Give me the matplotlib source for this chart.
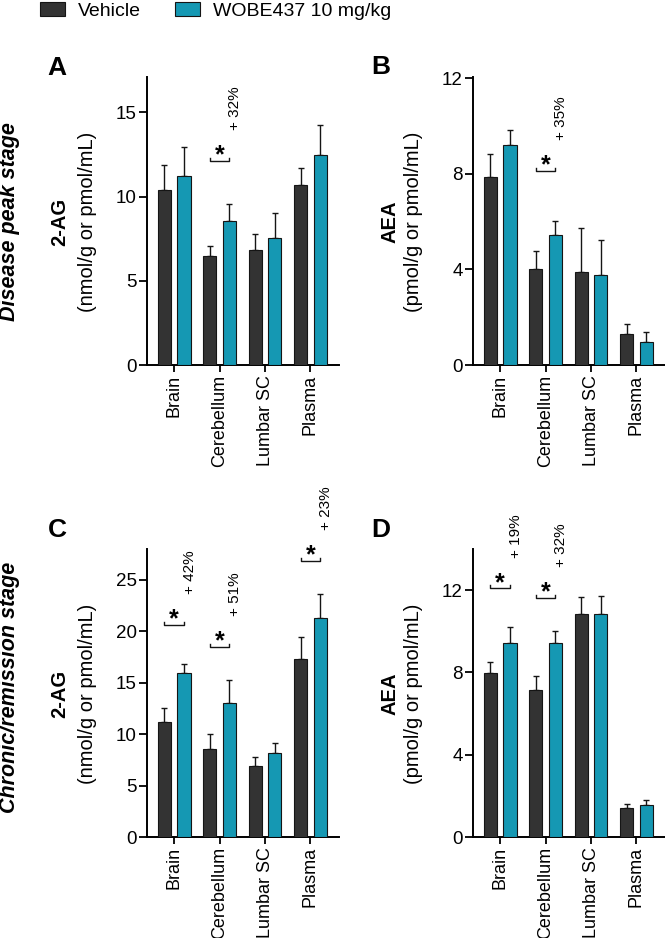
import matplotlib
matplotlib.use("Agg")
import matplotlib.pyplot as plt
from matplotlib.patches import Rectangle
import numpy as np

plt.rcParams['font.family'] = ['Liberation Sans', 'DejaVu Sans']

# ---------------- data ----------------
tissues = ["Brain", "Cerebellum", "Lumbar SC", "Plasma"]
series_names = ["Vehicle", "WOBE437 10 mg/kg"]

# Panel A: 2-AG, disease peak stage
a_vehicle = [10.4, 6.5, 6.85, 10.7]
a_vehicle_err = [1.45, 0.58, 0.93, 1.0]
a_wobe = [11.25, 8.55, 7.55, 12.45]
a_wobe_err = [1.68, 1.0, 1.5, 1.8]

# Panel B: AEA, disease peak stage
b_vehicle = [7.88, 4.0, 3.9, 1.31]
b_vehicle_err = [0.94, 0.78, 1.85, 0.39]
b_wobe = [9.19, 5.43, 3.78, 0.96]
b_wobe_err = [0.64, 0.6, 1.45, 0.41]

# Panel C: 2-AG, chronic/remission stage
c_vehicle = [11.17, 8.56, 6.87, 17.26]
c_vehicle_err = [1.33, 1.47, 0.91, 2.21]
c_wobe = [15.96, 12.99, 8.17, 21.26]
c_wobe_err = [0.87, 2.25, 1.01, 2.37]

# Panel D: AEA, chronic/remission stage
d_vehicle = [7.95, 7.13, 10.82, 1.42]
d_vehicle_err = [0.58, 0.69, 0.83, 0.18]
d_wobe = [9.45, 9.41, 10.82, 1.55]
d_wobe_err = [0.78, 0.59, 0.88, 0.23]

# significance annotations: (tissue index, bracket height, label)
a_sig = [(1, 12.1, "+ 32%")]
b_sig = [(1, 8.13, "+ 35%")]
c_sig = [(0, 20.6, "+ 42%"), (1, 18.5, "+ 51%"), (3, 26.8, "+ 23%")]
d_sig = [(0, 12.08, "+ 19%"), (1, 11.61, "+ 32%")]

ylims = {"A": 17.1, "B": 12.05, "C": 28.0, "D": 14.0}
yticks = {"A": [0, 5, 10, 15], "B": [0, 4, 8, 12], "C": [0, 5, 10, 15, 20, 25], "D": [0, 4, 8, 12]}

VEH = "#333333"
TEAL = "#1598B3"
EDGE = "#151515"

W, H = 665, 938
fig = plt.figure(figsize=(W / 100, H / 100), dpi=100)


def fx(px):
    return px / W


def fy(py):
    return 1 - py / H


axes_px = {
    "A": (147, 77, 339, 365),
    "B": (473, 77, 665, 365),
    "C": (147, 549, 339, 837),
    "D": (473, 549, 665, 837),
}

panels = {
    "A": (a_vehicle, a_vehicle_err, a_wobe, a_wobe_err, a_sig),
    "B": (b_vehicle, b_vehicle_err, b_wobe, b_wobe_err, b_sig),
    "C": (c_vehicle, c_vehicle_err, c_wobe, c_wobe_err, c_sig),
    "D": (d_vehicle, d_vehicle_err, d_wobe, d_wobe_err, d_sig),
}

x = np.arange(len(tissues))
bw = 0.29
off = 0.215
for key, (veh, veh_e, wob, wob_e, sig) in panels.items():
    l, t, r, b = axes_px[key]
    ax = fig.add_axes([fx(l), fy(b), fx(r) - fx(l), fy(t) - fy(b)])
    ax.bar(x - off, veh, bw, color=VEH, edgecolor=EDGE, linewidth=0.8, zorder=3)
    ax.bar(x + off, wob, bw, color=TEAL, edgecolor=EDGE, linewidth=0.8, zorder=3)
    z = np.zeros(len(x))
    ax.errorbar(x - off, veh, yerr=[z, veh_e], fmt="none", ecolor=EDGE,
                elinewidth=1.0, capsize=2.5, capthick=1.0, zorder=2)
    ax.errorbar(x + off, wob, yerr=[z, wob_e], fmt="none", ecolor=EDGE,
                elinewidth=1.0, capsize=2.5, capthick=1.0, zorder=2)
    ymax = ylims[key]
    ax.set_ylim(0, ymax)
    ax.set_xlim(-0.6, 3.63)
    ax.set_yticks(yticks[key])
    ax.set_xticks(x)
    ax.set_xticklabels(tissues, rotation=90, fontsize=13)
    ax.tick_params(axis="y", labelsize=13.5, length=6, width=1.3, direction="out", pad=1.5)
    ax.tick_params(axis="x", length=5, width=1.3, direction="out", pad=2)
    for s in ["top", "right"]:
        ax.spines[s].set_visible(False)
    for s in ["left", "bottom"]:
        ax.spines[s].set_linewidth(1.4)
    ax.patch.set_alpha(0)

    hk = 0.011 * ymax
    for gi, yb, lab in sig:
        x0, x1 = gi - off, gi + off
        ax.plot([x0, x0, x1, x1], [yb + hk, yb, yb, yb + hk], color=EDGE,
                lw=1.0, clip_on=False, zorder=4)
        ax.annotate("*", (gi, yb), xytext=(0, -1), textcoords="offset points",
                    ha="center", va="baseline", fontsize=18, fontweight="bold",
                    annotation_clip=False)
        ax.annotate(lab, (gi, yb), xytext=(11, 38), textcoords="offset points",
                    ha="center", va="center", rotation=90, fontsize=11,
                    annotation_clip=False)

# y labels
ylab = {
    "A": ("2-AG", "(nmol/g or pmol/mL)"),
    "B": ("AEA", "(pmol/g or pmol/mL)"),
    "C": ("2-AG", "(nmol/g or pmol/mL)"),
    "D": ("AEA", "(pmol/g or pmol/mL)"),
}
lab_x = {"A": (60, 88), "B": (390, 413), "C": (60, 88), "D": (390, 413)}
for key, (l1, l2) in ylab.items():
    l, t, r, b = axes_px[key]
    yc = fy((t + b) / 2 + 1)
    fig.text(fx(lab_x[key][0]), yc, l1, rotation=90, ha="center", va="center",
             fontsize=14.5, fontweight="bold")
    fig.text(fx(lab_x[key][1]), yc, l2, rotation=90, ha="center", va="center",
             fontsize=14.5)

# panel letters
for key, (px, py) in {"A": (57, 68), "B": (381, 67), "C": (57, 530), "D": (381, 530)}.items():
    fig.text(fx(px), fy(py), key, ha="center", va="center", fontsize=19, fontweight="bold")

# row labels
fig.text(fx(10), fy(221.5), "Disease peak stage", rotation=90, ha="center", va="center",
         fontsize=15.5, fontweight="bold", fontstyle="italic")
fig.text(fx(10), fy(687.5), "Chronic/remission stage", rotation=90, ha="center", va="center",
         fontsize=15.5, fontweight="bold", fontstyle="italic")

# legend (drawn in figure pixels)
for (bx, tx), name, col in zip([(40, 78), (175, 213)], series_names, [VEH, TEAL]):
    fig.add_artist(Rectangle((fx(bx), fy(16)), fx(25), 14 / H, transform=fig.transFigure,
                             facecolor=col, edgecolor=EDGE, linewidth=0.8))
    fig.text(fx(tx), fy(16), name, ha="left", va="baseline", fontsize=14)

fig.savefig("out.png", dpi=100)
